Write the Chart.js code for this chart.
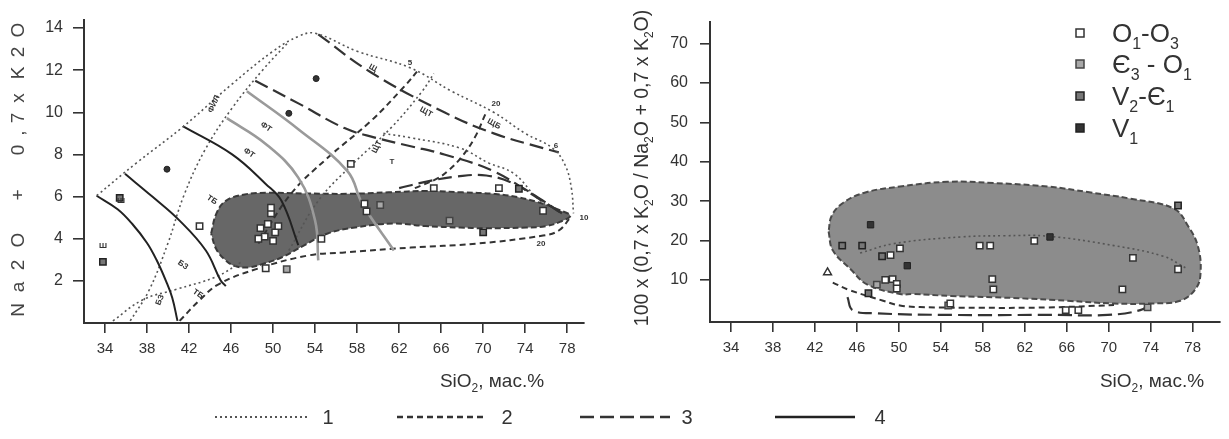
<!DOCTYPE html>
<html><head><meta charset="utf-8">
<script src="https://cdn.jsdelivr.net/npm/chart.js@4"></script>
<style>
html,body{margin:0;padding:0;background:#fff;}
#wrap{position:relative;width:1229px;height:439px;}
canvas{position:absolute;left:0;top:0;}
</style></head><body>
<div id="wrap"><canvas id="cL" width="1229" height="439"></canvas><canvas id="cR" width="1229" height="439"></canvas></div>
<script>
// ---------- tick labels ----------
const xTickValues = [34,38,42,46,50,54,58,62,66,70,74,78];
const leftYTicks = [2,4,6,8,10,12,14];
const rightYTicks = [10,20,30,40,50,60,70];

// ---------- left diagram (Na2O + 0.7K2O vs SiO2) ----------
const leftField = [[44.1,4.25],[44.6,5.19],[45.5,5.8],[47.3,6.1],[49.3,6.18],[53,6.15],[57.1,6.13],[61,6.2],[64.7,6.27],[68,6.2],[71,6.13],[73.5,5.95],[75.7,5.66],[77.3,5.35],[78.3,5.09],[77.3,4.8],[76,4.6],[74.1,4.53],[70,4.5],[67.8,4.53],[64.5,4.6],[61.5,4.72],[58,4.55],[55.2,4.25],[53,3.7],[50.8,3.11],[49,2.8],[47.7,2.64],[46.4,2.7],[45.5,2.97],[44.6,3.5],[44.1,4.25]];
const outerBoundary = [[33.2,6.04],[37,7.6],[41.4,9.3],[46,11.3],[50,12.9],[52.4,13.6],[54,13.75],[58,12.9],[63.1,12.1],[67,11.0],[71,10.0],[74,9.0],[76.6,8.3],[77.8,7.5],[78.4,6.4],[78.6,5.2]];
const solidA = [[33.2,6.04],[35.2,5.4],[36.6,4.7],[38,3.8],[38.9,3.0],[39.8,2.0],[40.4,1.2],[40.9,0.1]];
const solidB = [[35.9,7.08],[38.5,6.0],[41.1,4.86],[43.6,3.44],[45,2.03],[45.5,1.75]];
const solidC = [[41.4,9.34],[46.1,8.0],[49.3,6.6],[50.8,5.8],[52.4,3.7]];
const grayD = [[45.6,9.72],[49.3,8.5],[52.4,6.9],[54,4.86],[54.3,2.97]];
const grayE = [[47.5,11.0],[52.4,9.2],[57.1,7.2],[58.5,5.66],[61.5,3.44]];
const dashTop = [[54.3,13.7],[59.3,11.9],[66.3,10.0],[71,9.0],[75.7,8.3],[77.2,8.1]];
const dashMid = [[48.3,11.5],[52.5,10.4],[56.8,9.25],[59.7,8.8],[63,8.4],[66.3,8.0],[71,7.2],[75.3,5.9],[77.5,5.2]];
const dashNearField = [[62,6.4],[64.5,6.7],[67.5,6.95],[70.3,7.0],[73,6.6],[75.7,5.8],[77.5,5.2]];
const dotInner = [[60.5,9.0],[63,8.8],[67.8,8.3],[70.5,7.6],[72.9,7.1],[75,6.0],[76.5,5.4]];
const dashLower = [[41.1,0.1],[43,1.08],[44.85,1.85],[48.6,2.59],[53.3,3.2],[56.8,3.35],[63.1,3.58],[69.4,3.77],[75.7,4.15],[77.2,4.39],[78.3,5.0]];
const dotLowLeft = [[34.75,0.1],[37.6,1.1],[40.8,1.6],[44.6,2.2],[47,2.9]];
const dotDiagonal = [[36.4,0.1],[38.2,1.56],[40,3.8],[41.5,6.04],[43.5,8.2],[46.1,10.2],[49,12.0],[51.5,13.35]];
const diagA = [[48.6,3.77],[51.7,6.13],[55.2,7.84],[59.3,9.58],[62.5,11.23],[63.7,11.93]];
const diagB = [[51.5,3.44],[54.3,5.8],[57.6,7.55],[61.2,9.25],[64.2,11.0],[65.3,11.84]];
const diag20 = [[70.2,9.9],[69.2,8.8],[67.9,7.85],[66.6,7.2],[65.6,6.85],[63.5,6.4]];

const leftO = [[43.0,4.6],[48.8,4.5],[49.5,4.7],[50.2,4.3],[49.2,4.1],[50.0,3.9],[48.6,4.0],[50.5,4.6],[49.8,5.2],[49.8,5.47],[54.6,4.0],[57.4,7.55],[65.3,6.4],[71.5,6.4],[58.7,5.66],[58.9,5.3],[49.3,2.6],[75.7,5.33]];
const leftE3O1 = [[66.8,4.86],[51.3,2.55],[60.2,5.6]];
const leftV2E1 = [[70.0,4.3],[73.4,6.37],[35.4,5.94],[33.8,2.9]];
const leftV1 = [[54.1,11.6],[51.5,9.95],[39.9,7.3]];

// ---------- right diagram ----------
const rightField = [[43.3,22.3],[43.7,17.5],[45.4,12.7],[47,8.8],[50.1,6.4],[51.4,6.4],[55,5.9],[60.9,5.4],[66,4.7],[70.5,4.0],[74,4.0],[76.8,4.7],[78.3,7.8],[78.75,11.9],[78.5,18.5],[77.6,23.5],[76.2,28.1],[72.1,30.6],[68,32.3],[64.2,33.7],[59,34.6],[54.6,34.9],[50.1,33.7],[46.8,32.2],[44.7,29.6],[43.6,26.3],[43.3,22.3]];
const rightDotted = [[46.3,16.8],[49.5,19.2],[55.85,20.9],[60,21.2],[64.2,21.1],[70.5,18.7],[75.2,16.0],[77.3,13.1]];
const rightDashed = [[43.7,9.3],[45.3,7.4],[48.5,4.7],[50.1,3.5],[52,3.1],[57.8,2.9],[64.2,3.0],[70.5,3.6]];
const rightLongDash = [[45.1,5.6],[45.6,2.3],[47.9,1.5],[54.9,1.1],[64.4,1.1],[69.9,1.1],[73,2.3],[74,4.0]];
const rightO = [[49.2,16.3],[50.1,18.0],[57.7,18.7],[58.7,18.7],[62.9,19.9],[58.9,10.2],[59.0,7.6],[72.3,15.6],[76.6,12.7],[71.3,7.6],[48.7,10],[49.4,10.2],[49.8,9.0],[49.8,7.8],[54.9,4.0],[65.9,2.3],[67.1,2.3]];
const rightE3O1 = [[47.9,8.8],[73.7,3.0],[54.7,3.5]];
const rightV2E1 = [[44.6,18.7],[46.5,18.7],[48.4,16.0],[76.6,28.9],[47.1,6.6]];
const rightV1 = [[47.3,24.0],[50.8,13.6],[64.4,20.9]];
const rightTriangle = [[43.2,11.9]];

// ---------- helpers ----------
const FONT = '"Liberation Sans", Arial, sans-serif';
Chart.defaults.font.family = FONT;
Chart.defaults.color = '#333';
const xy = a => a.map(([x,y]) => ({x,y}));
const LINE_STYLES = {
  1: {dash:[2,3], w:1.6, c:'#555'},
  2: {dash:[6,4], w:2, c:'#333'},
  3: {dash:[14,6], w:2.2, c:'#333'},
  4: {dash:[], w:2, c:'#222'},
  g: {dash:[], w:2.6, c:'#9a9a9a'}
};
function lineDS(pts, t){
  const s = LINE_STYLES[t];
  return {type:'line', data:xy(pts), borderColor:s.c, borderWidth:s.w, borderDash:s.dash,
    pointRadius:0, fill:false, tension:0.4, order:2};
}
function fieldDS(pts, fillC, lineC){
  return {type:'line', data:xy(pts), borderColor:lineC, borderWidth:2, borderDash:[6,3],
    backgroundColor:fillC, fill:'shape', pointRadius:0, tension:0.4, order:3};
}
const MARK = {
  O:{bg:'#ffffff', bc:'#333', bw:1.5},
  E:{bg:'#a8a8a8', bc:'#444', bw:1.5},
  V2:{bg:'#777', bc:'#222', bw:1.5},
  V1:{bg:'#333', bc:'#222', bw:1}
};
function ptDS(pts, k, style, r){
  const m = MARK[k];
  return {type:'scatter', data:xy(pts), pointStyle:style||'rect', pointRadius:r||4.5,
    backgroundColor:m.bg, borderColor:m.bc, borderWidth:m.bw, showLine:false, order:1};
}
function drawRich(ctx, segs, x, y, size, align, rot, color){
  ctx.save();
  ctx.translate(x,y);
  if(rot) ctx.rotate(rot);
  ctx.fillStyle = color || '#333';
  const sub = Math.round(size*0.62);
  let w = 0;
  const parts = segs.map(s => { const isSub = s[1]==='s'; ctx.font = (isSub?sub:size)+'px '+FONT; const m = ctx.measureText(s[0]).width; w += m; return {t:s[0], isSub, m}; });
  let cx = align==='center' ? -w/2 : align==='right' ? -w : 0;
  ctx.textBaseline = 'alphabetic';
  for(const p of parts){ ctx.font=(p.isSub?sub:size)+'px '+FONT; ctx.fillText(p.t, cx, p.isSub ? size*0.28 : 0); cx += p.m; }
  ctx.restore();
}
function axisOpts(min, max, ticks, tickLen, pad, fitKey, fitVal, fontSize){
  return {
    type:'linear', min, max,
    afterBuildTicks: s => { s.ticks = ticks.map(v => ({value:v})); },
    afterFit: s => { s[fitKey] = fitVal; },
    ticks:{ font:{size:fontSize}, color:'#333', padding:pad, autoSkip:false, maxRotation:0, callback:v=>String(v) },
    grid:{ drawOnChartArea:false, drawTicks:true, tickLength:tickLen, color:'#333', lineWidth:1.6 },
    border:{ display:true, color:'#333', width:2 }
  };
}

// ---------- left chart ----------
const leftYTitle = [['O',30],['2',52],['K',73],['x',98],['7',118],[',',133],['0',150],['+',195],['O',240],['2',265],['a',287],['N',310]];
const fieldLabels = [['ФИЛ',214,104,-1.15],['ФТ',266,127,0.6],['ФТ',249,153,0.6],['Щ',373,68,0.5],['ЩТ',426,112,0.5],['ЩБ',494,124,0.5],['ЩТ',377,147,-1.1],['Т',392,162,0],['5',410,63,0],['20',496,104,0],['6',556,146,0],['10',584,218,0],['20',541,244,0],['ТБ',212,200,0.6],['БЗ',183,265,0.6],['ТБ',198,294,0.6],['Ш',121,201,0],['Ш',103,246,0],['БЗ',160,300,-1.2]];
const leftDeco = {
  id:'leftDeco',
  afterDraw(chart){
    const ctx = chart.ctx;
    ctx.save();
    ctx.fillStyle = '#444';
    ctx.font = '19px '+FONT;
    ctx.textAlign='center'; ctx.textBaseline='middle';
    for(const [c,y] of leftYTitle){ ctx.save(); ctx.translate(19,y); ctx.rotate(-Math.PI/2); ctx.fillText(c,0,0); ctx.restore(); }
    ctx.font = 'bold 8px '+FONT; ctx.fillStyle='#333';
    for(const [t,x,y,r] of fieldLabels){ ctx.save(); ctx.translate(x,y); ctx.rotate(r); ctx.fillText(t,0,0); ctx.restore(); }
    ctx.restore();
    drawRich(ctx, [['SiO'],['2','s'],[', мас.%']], 492, 387, 19, 'center', 0, '#333');
    // bottom legend of line types
    const legendRows = [[215,308,1,'1',328],[397,487,2,'2',507],[580,670,3,'3',687],[775,855,4,'4',880]];
    for(const [x0,x1,t,lab,lx] of legendRows){
      const s = LINE_STYLES[t];
      ctx.save(); ctx.strokeStyle=s.c; ctx.lineWidth=s.w+0.3; ctx.setLineDash(s.dash);
      ctx.beginPath(); ctx.moveTo(x0,417); ctx.lineTo(x1,417); ctx.stroke(); ctx.restore();
      drawRich(ctx, [[lab]], lx, 424, 20, 'center', 0, '#333');
    }
  }
};
new Chart(document.getElementById('cL'), {
  type:'scatter',
  data:{datasets:[
    fieldDS(leftField, '#676767', '#3a3a3a'),
    lineDS(outerBoundary,1), lineDS(solidA,4), lineDS(solidB,4), lineDS(solidC,4),
    lineDS(grayD,'g'), lineDS(grayE,'g'),
    lineDS(dashTop,3), lineDS(dashMid,3), lineDS(dashNearField,3), lineDS(dotInner,1),
    lineDS(dashLower,2), lineDS(dotLowLeft,1), lineDS(dotDiagonal,1),
    lineDS(diagA,2), lineDS(diagB,1), lineDS(diag20,2),
    ptDS(leftO,'O'), ptDS(leftE3O1,'E'), ptDS(leftV2E1,'V2'), ptDS(leftV1,'V1','circle',3)
  ]},
  options:{
    responsive:false, animation:false, events:[],
    layout:{padding:{left:0, top:17, right:1229-584, bottom:0}},
    plugins:{legend:{display:false}, tooltip:{enabled:false}},
    scales:{
      x: axisOpts(32, 79.6, xTickValues, 10, 7, 'height', 116, 15),
      y: axisOpts(0, 14.4, leftYTicks, 11, 10, 'width', 84, 16)
    }
  },
  plugins:[leftDeco]
});

// ---------- right chart ----------
const rightLegend = [
  ['O', [['O'],['1','s'],['-O'],['3','s']]],
  ['E', [['Є'],['3','s'],[' - O'],['1','s']]],
  ['V2',[['V'],['2','s'],['-Є'],['1','s']]],
  ['V1',[['V'],['1','s']]]
];
const rightDeco = {
  id:'rightDeco',
  afterDraw(chart){
    const ctx = chart.ctx;
    const segs = [['100 x (0,7 x K'],['2','s'],['O / Na'],['2','s'],['O + 0,7 x K'],['2','s'],['O)']];
    ctx.save();
    let w=0; for(const s of segs){ ctx.font=(s[1]?10:16)+'px '+FONT; w+=ctx.measureText(s[0]).width; }
    ctx.restore();
    const fs = 16*317/w;
    drawRich(ctx, segs, 648, 168, fs, 'center', -Math.PI/2, '#333');
    drawRich(ctx, [['SiO'],['2','s'],[', мас.%']], 1152, 387, 19, 'center', 0, '#333');
    const rows=[33,64,96,128];
    rightLegend.forEach(([k,seg],i)=>{
      const m = MARK[k];
      ctx.save(); ctx.fillStyle=m.bg; ctx.strokeStyle=m.bc; ctx.lineWidth=1.5;
      ctx.fillRect(1076,rows[i]-4,8,8); ctx.strokeRect(1076,rows[i]-4,8,8); ctx.restore();
      drawRich(ctx, seg, 1112, rows[i]+9, 26, 'left', 0, '#333');
    });
  }
};
new Chart(document.getElementById('cR'), {
  type:'scatter',
  data:{datasets:[
    fieldDS(rightField, '#8c8c8c', '#4a4a4a'),
    lineDS(rightDotted,1), lineDS(rightDashed,2), lineDS(rightLongDash,3),
    ptDS(rightO,'O'), ptDS(rightE3O1,'E'), ptDS(rightV2E1,'V2'), ptDS(rightV1,'V1'),
    ptDS(rightTriangle,'O','triangle')
  ]},
  options:{
    responsive:false, animation:false, events:[],
    layout:{padding:{left:0, top:7, right:9, bottom:0}},
    plugins:{legend:{display:false}, tooltip:{enabled:false}},
    scales:{
      x: axisOpts(32, 80.6, xTickValues, 10, 7, 'height', 117, 15),
      y: axisOpts(-0.7, 75.6, rightYTicks, 10, 12, 'width', 710, 16)
    }
  },
  plugins:[rightDeco]
});
</script></body></html>
